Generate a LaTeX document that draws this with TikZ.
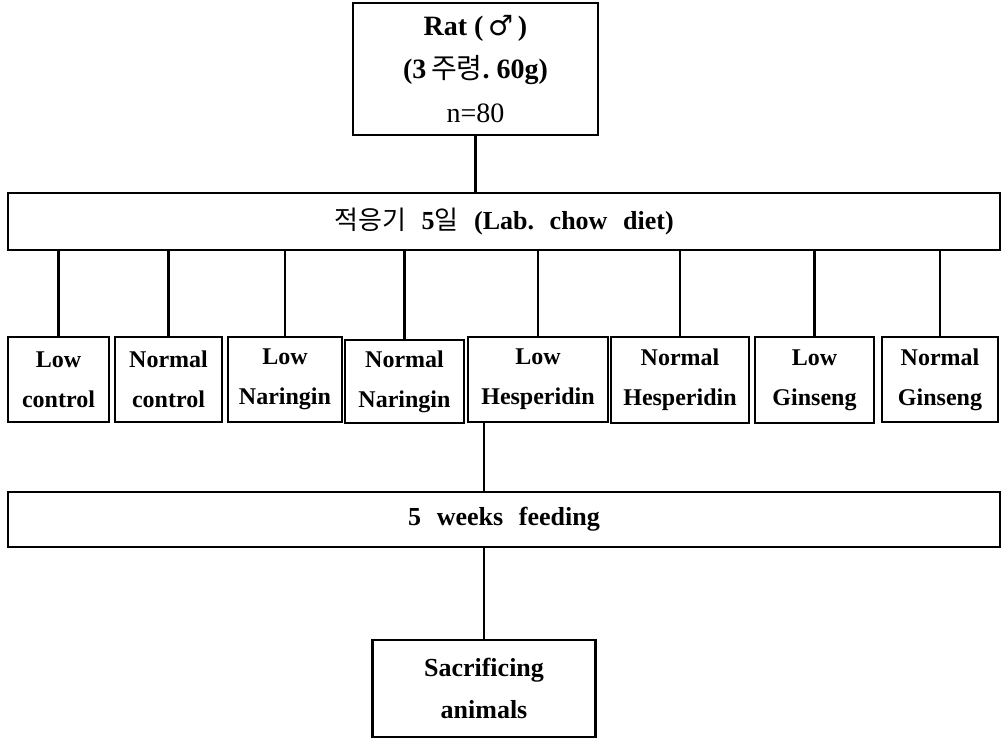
\documentclass[tikz,border=0pt]{standalone}
\usepackage{fontspec}
\setmainfont{Liberation Serif}
\newfontfamily\krfont{Noto Sans CJK KR}
\newfontfamily\symfont{DejaVu Sans}
\usetikzlibrary{positioning}
\newcommand\wgap{\hspace{0.6em}}
\tikzset{
box/.style 2 args={draw,line width=1.2pt,minimum width=#1,minimum height=#2,
	inner sep=0pt,align=center,font=\bfseries\fontsize{12}{20}\selectfont},
link/.style={line width=1.1pt},
}

\begin{document}
\begin{tikzpicture}[x=0.5pt,y=-0.5pt]
\useasboundingbox (0,0) rectangle (1002,739);
%Place the nodes
\node[box={122.5pt}{66pt}, font=\fontsize{14}{21.75}\selectfont] (rat) at (475.5,69)
	{\textbf{Rat\ (\,{\symfont ♂}\,)}\\\textbf{(3{\krfont\mdseries\,주령}.\ 60g)}\\n=80};
\node[box={496pt}{28.5pt}, font=\bfseries\fontsize{13}{20}\selectfont] (adapt) at (504,221.5)
	{{\krfont\mdseries 적응기}\wgap 5{\krfont\mdseries 일}\wgap (Lab.\wgap chow\wgap diet)};

\foreach \nm/\cx/\cy/\w/\h/\txt in {
	lc/58.5/379.5/50.5pt/42.5pt/{Low\\control},
	nc/168.5/379.5/53.5pt/42.5pt/{Normal\\control},
	ln/285/379.5/57pt/42.5pt/{Low\\Naringin},
	nn/404.5/381.5/59.5pt/41.5pt/{Normal\\Naringin},
	lh/538/379.5/70pt/42.5pt/{Low\\Hesperidin},
	nh/680/380/69pt/43pt/{Normal\\Hesperidin},
	lg/814.5/380/59.5pt/43pt/{Low\\Ginseng},
	ng/940/379.5/58pt/42.5pt/{Normal\\Ginseng}} {
	\node[box={\w}{\h}] (\nm) at (\cx,\cy) {\txt};
}

\node[box={496pt}{27.5pt}, font=\bfseries\fontsize{13}{20}\selectfont] (feed) at (504,519.5)
	{5\wgap weeks\wgap feeding};
\node[box={111.5pt}{48.5pt}, font=\bfseries\fontsize{13}{21}\selectfont] (sacr) at (484,688.5)
	{Sacrificing\\animals};

%
\draw[link] (rat.south) -- (rat.south |- adapt.north);

%
\foreach \nm in {lc,nc,ln,nn,lh,nh,lg,ng}
	\draw[link] (\nm.north) -- (\nm.north |- adapt.south);

%
\draw[link] (lh.south -| sacr.north) -- (feed.north -| sacr.north);
\draw[link] (feed.south -| sacr.north) -- (sacr.north);

\end{tikzpicture}
\end{document}
